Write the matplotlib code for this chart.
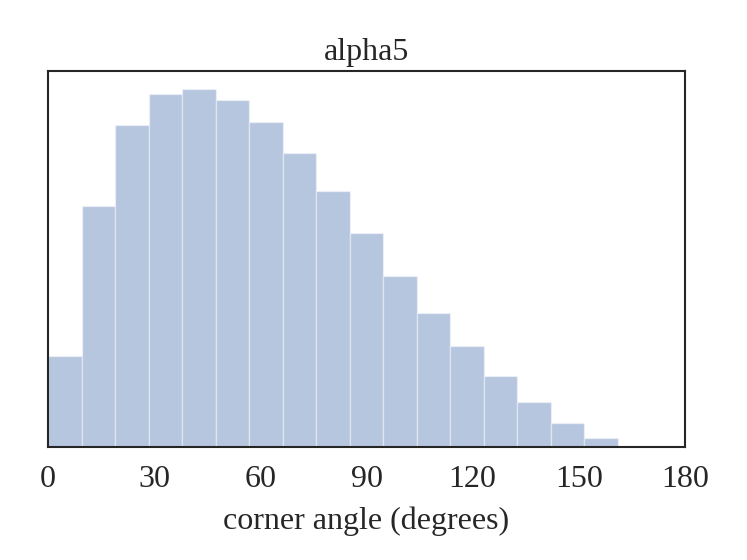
import matplotlib
matplotlib.use("Agg")
import matplotlib.pyplot as plt
import numpy as np

# bin counts (19 equal bins over 0..180 degrees)
bin_edges = np.linspace(0, 180, 20)
counts = [90.7, 240.7, 321.4, 352.7, 357.4, 346.4, 324.0, 293.0, 255.4, 213.0,
          171.0, 133.7, 100.7, 70.7, 44.4, 23.4, 8.7, 1.0, 0.0]
xticks = [0, 30, 60, 90, 120, 150, 180]
title = "alpha5"
xlabel = "corner angle (degrees)"

plt.rcParams['font.family'] = ['Liberation Serif', 'DejaVu Serif']

fig = plt.figure(figsize=(7.47, 5.6), dpi=100)
ax = fig.add_axes([48 / 747, 1 - 446.7 / 560, (685 - 48) / 747, (446.7 - 71) / 560])

centers = (bin_edges[:-1] + bin_edges[1:]) / 2
ax.hist(centers, bins=bin_edges, weights=counts, color='#4c72b0', alpha=0.4,
        edgecolor='white', linewidth=1.0)

ax.set_xlim(0, 180)
ax.set_ylim(0, max(counts) * 1.05)
ax.set_yticks([])
ax.set_xticks(xticks)
ax.tick_params(axis='x', length=0, pad=13, labelsize=23, colors='#262626')
for s in ax.spines.values():
    s.set_color('#262626')
    s.set_linewidth(1.5)

ax.set_title(title, fontsize=23, color='#262626', pad=8)
ax.set_xlabel(xlabel, fontsize=23, color='#262626', labelpad=9)

fig.savefig("out.png", dpi=100, facecolor='white')
